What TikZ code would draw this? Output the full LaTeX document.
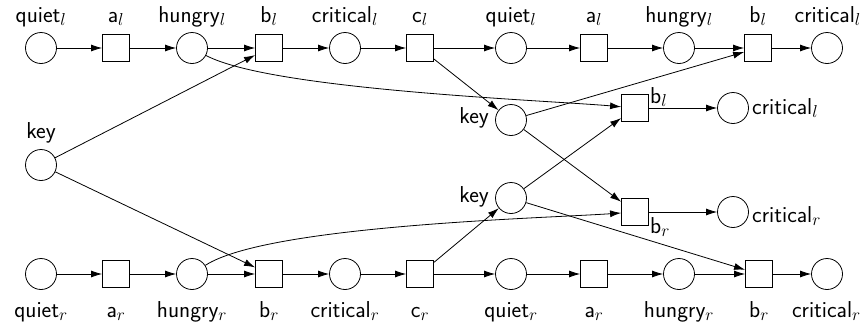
\documentclass[tikz,border=0pt]{standalone}
\usetikzlibrary{arrows.meta}
\begin{document}
\begin{tikzpicture}[x=1pt,y=-1pt,
  place/.style={circle,draw,minimum size=31pt,inner sep=0pt,line width=0.8pt},
  trans/.style={rectangle,draw,minimum size=27pt,inner sep=0pt,line width=0.8pt},
  lbl/.style={font=\sffamily\fontsize{23}{27}\selectfont,inner sep=0pt},
  arc/.style={-{Latex[length=11pt,width=7pt]},line width=0.8pt}]
\useasboundingbox (0,0) rectangle (862,333);
% top row
\node[place] (q1t) at (41,48) {};
\node[trans] (a1t) at (116,48) {};
\node[place] (h1t) at (192,48) {};
\node[trans] (b1t) at (269,48) {};
\node[place] (k1t) at (345,48) {};
\node[trans] (ct)  at (420,48) {};
\node[place] (q2t) at (511,48) {};
\node[trans] (a2t) at (594,48) {};
\node[place] (h2t) at (679,48) {};
\node[trans] (b2t) at (758,48) {};
\node[place] (k2t) at (827,48) {};
% bottom row
\node[place] (q1b) at (41,274) {};
\node[trans] (a1b) at (116,274) {};
\node[place] (h1b) at (192,274) {};
\node[trans] (b1b) at (269,274) {};
\node[place] (k1b) at (345,274) {};
\node[trans] (cb)  at (420,274) {};
\node[place] (q2b) at (511,274) {};
\node[trans] (a2b) at (594,274) {};
\node[place] (h2b) at (679,274) {};
\node[trans] (b2b) at (759,274) {};
\node[place] (k2b) at (827,274) {};
% middle
\node[place] (keyL) at (41,165) {};
\node[place] (keyU) at (511,120) {};
\node[place] (keyD) at (511,198) {};
\node[trans] (bm) at (635,108) {};
\node[trans] (bn) at (635,212) {};
\node[place] (km) at (733,108) {};
\node[place] (kn) at (733,212) {};
% top labels
\node[lbl,anchor=base] (lq1t) at (41,22) {quiet$_l$};
\node[lbl,anchor=base] (la1t) at (116,22) {a$_l$};
\node[lbl,anchor=base] (lh1t) at (192,22) {hungry$_l$};
\node[lbl,anchor=base] (lb1t) at (269,22) {b$_l$};
\node[lbl,anchor=base] (lk1t) at (345,22) {critical$_l$};
\node[lbl,anchor=base] (lct)  at (420,22) {c$_l$};
\node[lbl,anchor=base] (lq2t) at (511,22) {quiet$_l$};
\node[lbl,anchor=base] (la2t) at (594,22) {a$_l$};
\node[lbl,anchor=base] (lh2t) at (679,22) {hungry$_l$};
\node[lbl,anchor=base] (lb2t) at (758,22) {b$_l$};
\node[lbl,anchor=base east] (lk2t) at (861,22) {critical$_l$};
% bottom labels
\node[lbl,anchor=base] (lq1b) at (41,317) {quiet$_r$};
\node[lbl,anchor=base] (la1b) at (116,317) {a$_r$};
\node[lbl,anchor=base] (lh1b) at (192,317) {hungry$_r$};
\node[lbl,anchor=base] (lb1b) at (269,317) {b$_r$};
\node[lbl,anchor=base] (lk1b) at (345,317) {critical$_r$};
\node[lbl,anchor=base] (lcb)  at (420,317) {c$_r$};
\node[lbl,anchor=base] (lq2b) at (511,317) {quiet$_r$};
\node[lbl,anchor=base] (la2b) at (594,317) {a$_r$};
\node[lbl,anchor=base] (lh2b) at (679,317) {hungry$_r$};
\node[lbl,anchor=base] (lb2b) at (759,317) {b$_r$};
\node[lbl,anchor=base east] (lk2b) at (861,317) {critical$_r$};
% middle labels
\node[lbl,anchor=base] (lkeyL) at (41,138) {key};
\node[lbl,anchor=east] (lkeyU) at (489,118) {key};
\node[lbl,anchor=east] (lkeyD) at (489,197) {key};
\node[lbl,anchor=base west] (lbm) at (650,103) {b$_l$};
\node[lbl,anchor=north west] (lbn) at (650,217) {b$_r$};
\node[lbl,anchor=base west] (lkm) at (752,114) {critical$_l$};
\node[lbl,anchor=base west] (lkn) at (752,222) {critical$_r$};
% arcs
\foreach \s/\t in {q1t/a1t,a1t/h1t,h1t/b1t,b1t/k1t,k1t/ct,ct/q2t,q2t/a2t,a2t/h2t,h2t/b2t,b2t/k2t,
                   q1b/a1b,a1b/h1b,h1b/b1b,b1b/k1b,k1b/cb,cb/q2b,q2b/a2b,a2b/h2b,h2b/b2b,b2b/k2b,
                   keyL/b1t,keyL/b1b,ct/keyU,cb/keyD,keyU/b2t,keyU/bn,keyD/bm,keyD/b2b,bm/km,bn/kn}
  \draw[arc] (\s) -- (\t);
\draw[arc] (h1t) to[out=-28,in=175,looseness=0.45] (bm);
\draw[arc] (h1b) to[out=33,in=184,looseness=0.45] (bn);
\end{tikzpicture}
\end{document}
